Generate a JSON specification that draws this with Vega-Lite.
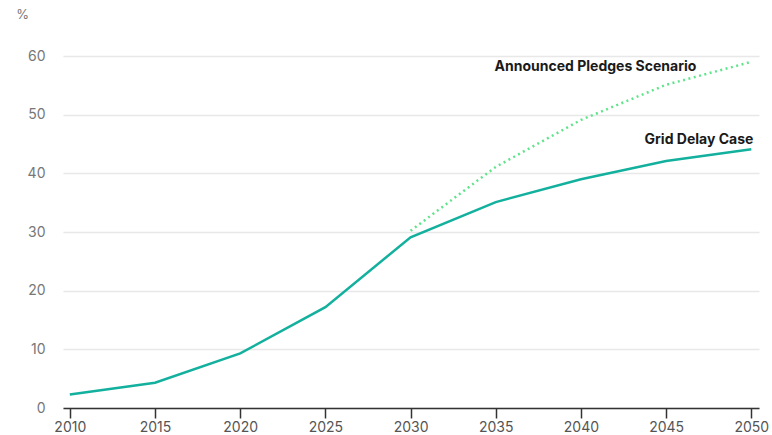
{
  "$schema": "https://vega.github.io/schema/vega-lite/v6.json",
  "autosize": "none",
  "width": 696,
  "height": 352,
  "padding": {"left": 63, "top": 56, "right": 13, "bottom": 27},
  "background": "white",
  "config": {
    "view": {"stroke": null},
    "font": "Inter",
    "axis": {"labelFont": "Inter", "titleFont": "Inter"}
  },
  "datasets": {
    "lines": [
      {"year": 2010, "value": 2.3, "series": "Grid Delay Case"},
      {"year": 2015, "value": 4.3, "series": "Grid Delay Case"},
      {"year": 2020, "value": 9.3, "series": "Grid Delay Case"},
      {"year": 2025, "value": 17.2, "series": "Grid Delay Case"},
      {"year": 2030, "value": 29.1, "series": "Grid Delay Case"},
      {"year": 2035, "value": 35.1, "series": "Grid Delay Case"},
      {"year": 2040, "value": 39, "series": "Grid Delay Case"},
      {"year": 2045, "value": 42.1, "series": "Grid Delay Case"},
      {"year": 2050, "value": 44.1, "series": "Grid Delay Case"},
      {"year": 2030, "value": 30.2, "series": "Announced Pledges Scenario"},
      {"year": 2035, "value": 41.1, "series": "Announced Pledges Scenario"},
      {"year": 2040, "value": 49.1, "series": "Announced Pledges Scenario"},
      {"year": 2045, "value": 55.1, "series": "Announced Pledges Scenario"},
      {"year": 2050, "value": 59, "series": "Announced Pledges Scenario"}
    ]
  },
  "layer": [
    {
      "data": {"name": "lines"},
      "transform": [{"filter": "datum.series === 'Grid Delay Case'"}],
      "mark": {"type": "line", "color": "#13b09e", "strokeWidth": 2.5},
      "encoding": {
        "x": {
          "field": "year", "type": "quantitative",
          "scale": {"domain": [2009.6, 2050.45], "nice": false, "zero": false},
          "axis": {
            "values": [2010, 2015, 2020, 2025, 2030, 2035, 2040, 2045, 2050],
            "format": "d", "title": null, "grid": false,
            "domainColor": "#333333", "domainWidth": 1.5,
            "tickColor": "#333333", "tickSize": 10, "tickWidth": 1.5,
            "labelColor": "#555555", "labelFontSize": 14, "labelPadding": 2
          }
        },
        "y": {
          "field": "value", "type": "quantitative",
          "scale": {"domain": [0, 60], "nice": false},
          "axis": {
            "values": [0, 10, 20, 30, 40, 50, 60],
            "title": "%", "titleAngle": 0, "titleX": -41, "titleY": -42,
            "titleAlign": "center", "titleBaseline": "middle",
            "titleFontSize": 13, "titleFontWeight": "normal", "titleColor": "#777777",
            "domain": false, "ticks": false,
            "labelColor": "#777777", "labelFontSize": 14, "labelPadding": 18,
            "gridColor": "#e8e8e8", "gridWidth": 1.5
          }
        }
      }
    },
    {
      "data": {"name": "lines"},
      "transform": [{"filter": "datum.series === 'Announced Pledges Scenario'"}],
      "mark": {"type": "line", "color": "#5fe48c", "strokeWidth": 2.5, "strokeDash": [2, 3.5]},
      "encoding": {
        "x": {"field": "year", "type": "quantitative"},
        "y": {"field": "value", "type": "quantitative"}
      }
    },
    {
      "data": {"name": "lines"},
      "transform": [{"filter": "datum.year === 2050 && datum.series === 'Grid Delay Case'"}],
      "mark": {"type": "text", "align": "right", "baseline": "middle", "fontWeight": "bold", "fontSize": 14, "color": "#1a1a1a", "dx": 2, "dy": -9},
      "encoding": {
        "x": {"field": "year", "type": "quantitative"},
        "y": {"field": "value", "type": "quantitative"},
        "text": {"field": "series"}
      }
    },
    {
      "data": {"name": "lines"},
      "transform": [{"filter": "datum.year === 2050 && datum.series === 'Announced Pledges Scenario'"}],
      "mark": {"type": "text", "align": "right", "baseline": "middle", "fontWeight": "bold", "fontSize": 14, "color": "#1a1a1a", "dx": -55, "dy": 5},
      "encoding": {
        "x": {"field": "year", "type": "quantitative"},
        "y": {"field": "value", "type": "quantitative"},
        "text": {"field": "series"}
      }
    }
  ]
}
